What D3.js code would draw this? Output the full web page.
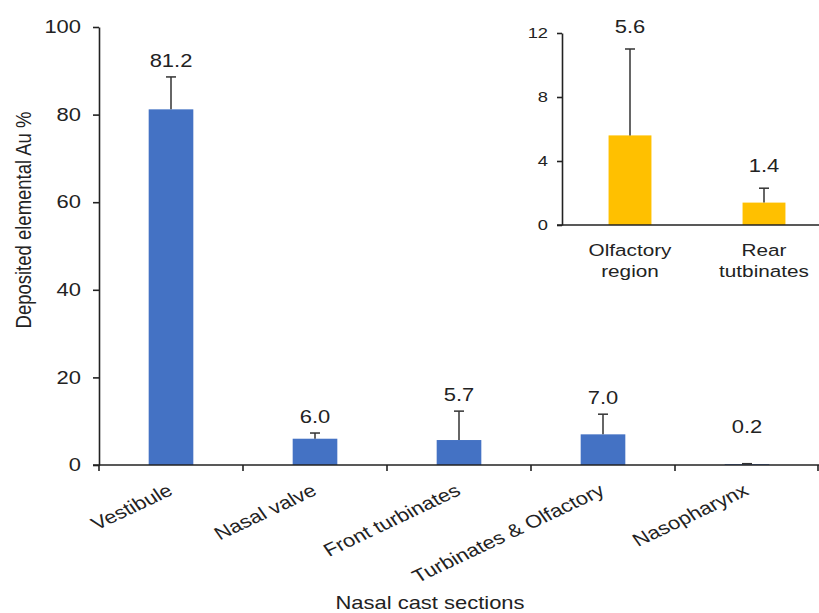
<!DOCTYPE html>
<html>
<head>
<meta charset="utf-8">
<script src="https://cdn.jsdelivr.net/npm/d3@7"></script>
<style>
  body { margin: 0; background: #fff; }
  text { font-family: "Liberation Sans", Arial, sans-serif; fill: #222; }
</style>
</head>
<body>
<div id="chart"></div>
<script>
// Main chart data: nasal cast sections.
var sections = ["Vestibule", "Nasal valve", "Front turbinates", "Turbinates & Olfactory", "Nasopharynx"];
var deposited = [81.2, 6.0, 5.7, 7.0, 0.2];
var depositedErr = [7.4, 1.3, 6.6, 4.6, 0.1];
var yTicks = [0, 20, 40, 60, 80, 100];

// Inset data: split of the turbinate region.
var insetSections = [["Olfactory", "region"], ["Rear", "tutbinates"]];
var insetValues = [5.6, 1.4];
var insetErr = [5.4, 0.9];
var insetTicks = [0, 4, 8, 12];

var width = 819;
var height = 613;
// Source picture is stretched sideways, so text gets the same stretch.
var sx = 1.22;

var svg = d3.select("#chart").append("svg")
    .attr("width", width)
    .attr("height", height);

// Main scales.
var x = d3.scaleBand()
    .domain(sections)
    .range([99, 819]);

var y = d3.scaleLinear()
    .domain([0, 100])
    .range([465, 27]);

var barW = x.bandwidth() * 0.31;

// Y axis
var gY = svg.append("g")
    .attr("transform", "translate(99,0)")
    .call(d3.axisLeft(y).tickValues(yTicks).tickSize(6).tickSizeOuter(0));
gY.select(".domain").attr("stroke", "#222").attr("stroke-width", 1.6);
gY.selectAll(".tick line").attr("stroke", "#222").attr("stroke-width", 1.6);
gY.selectAll(".tick text")
    .attr("x", null)
    .attr("transform", "translate(-18,0) scale(" + sx + ",1)")
    .style("font-size", "18px")
    .style("font-family", null);

// Bars
svg.selectAll("rect.bar")
    .data(deposited)
    .enter().append("rect")
    .attr("class", "bar")
    .attr("x", function(d, i) { return x(sections[i]) + x.bandwidth() / 2 - barW / 2; })
    .attr("y", function(d) { return y(d); })
    .attr("width", barW)
    .attr("height", function(d) { return y(0) - y(d); })
    .attr("fill", "#4472C4");

// Error bars (upper only)
var errG = svg.selectAll("g.err")
    .data(deposited)
    .enter().append("g")
    .attr("class", "err")
    .attr("stroke", "#333")
    .attr("stroke-width", 1.5);
errG.append("line")
    .attr("x1", function(d, i) { return x(sections[i]) + x.bandwidth() / 2; })
    .attr("x2", function(d, i) { return x(sections[i]) + x.bandwidth() / 2; })
    .attr("y1", function(d) { return y(d); })
    .attr("y2", function(d, i) { return y(d + depositedErr[i]); });
errG.append("line")
    .attr("x1", function(d, i) { return x(sections[i]) + x.bandwidth() / 2 - 5; })
    .attr("x2", function(d, i) { return x(sections[i]) + x.bandwidth() / 2 + 5; })
    .attr("y1", function(d, i) { return y(d + depositedErr[i]); })
    .attr("y2", function(d, i) { return y(d + depositedErr[i]); });

// Value labels above the error bars
svg.selectAll("text.val")
    .data(deposited)
    .enter().append("text")
    .attr("class", "val")
    .attr("text-anchor", "middle")
    .style("font-size", "18px")
    .attr("transform", function(d, i) {
        var ly = Math.min(y(d + depositedErr[i]) - 10, y(7.3));
        return "translate(" + (x(sections[i]) + x.bandwidth() / 2) + "," + ly + ") scale(" + sx + ",1)";
    })
    .text(function(d) { return d.toFixed(1); });

// X axis line with ticks between the categories
svg.append("line")
    .attr("x1", 93).attr("x2", 819)
    .attr("y1", y(0)).attr("y2", y(0))
    .attr("stroke", "#222").attr("stroke-width", 1.6);
var bounds = sections.map(function(s) { return x(s); }).concat([x.range()[1] - 1]);
svg.selectAll("line.xtick")
    .data(bounds)
    .enter().append("line")
    .attr("class", "xtick")
    .attr("x1", function(d) { return d; })
    .attr("x2", function(d) { return d; })
    .attr("y1", y(0))
    .attr("y2", y(0) + 6)
    .attr("stroke", "#222").attr("stroke-width", 1.6);

// Rotated category labels
svg.selectAll("text.cat")
    .data(sections)
    .enter().append("text")
    .attr("class", "cat")
    .attr("text-anchor", "end")
    .style("font-size", "18px")
    .attr("transform", function(d) {
        return "translate(" + (x(d) + x.bandwidth() / 2 + 3) + ",494) scale(" + sx + ",1) rotate(-30)";
    })
    .text(function(d) { return d; });

// Axis titles
svg.append("text")
    .attr("text-anchor", "middle")
    .style("font-size", "18px")
    .attr("transform", "translate(430,609) scale(" + sx + ",1)")
    .text("Nasal cast sections");

svg.append("text")
    .attr("text-anchor", "middle")
    .style("font-size", "18.5px")
    .attr("transform", "translate(31,220) scale(" + sx + ",1) rotate(-90)")
    .text("Deposited elemental Au %");

// ---- Inset chart ----
var xi = d3.scaleBand()
    .domain(insetSections.map(function(d) { return d.join(" "); }))
    .range([563, 831]);

var yi = d3.scaleLinear()
    .domain([0, 12])
    .range([225, 33]);

var barWi = xi.bandwidth() * 0.32;
var cx = function(i) { return xi(insetSections[i].join(" ")) + xi.bandwidth() / 2; };

var gYi = svg.append("g")
    .attr("transform", "translate(562,0)")
    .call(d3.axisLeft(yi).tickValues(insetTicks).tickSize(5).tickSizeOuter(0));
gYi.select(".domain").attr("stroke", "#222").attr("stroke-width", 1.6);
gYi.selectAll(".tick line").attr("stroke", "#222").attr("stroke-width", 1.6);
gYi.selectAll(".tick text")
    .attr("x", null)
    .attr("transform", "translate(-14,0) scale(" + sx + ",1)")
    .style("font-size", "15px")
    .style("font-family", null);

svg.selectAll("rect.ibar")
    .data(insetValues)
    .enter().append("rect")
    .attr("class", "ibar")
    .attr("x", function(d, i) { return cx(i) - barWi / 2; })
    .attr("y", function(d) { return yi(d); })
    .attr("width", barWi)
    .attr("height", function(d) { return yi(0) - yi(d); })
    .attr("fill", "#FFC000");

var errI = svg.selectAll("g.ierr")
    .data(insetValues)
    .enter().append("g")
    .attr("class", "ierr")
    .attr("stroke", "#333")
    .attr("stroke-width", 1.5);
errI.append("line")
    .attr("x1", function(d, i) { return cx(i); })
    .attr("x2", function(d, i) { return cx(i); })
    .attr("y1", function(d) { return yi(d); })
    .attr("y2", function(d, i) { return yi(d + insetErr[i]); });
errI.append("line")
    .attr("x1", function(d, i) { return cx(i) - 5; })
    .attr("x2", function(d, i) { return cx(i) + 5; })
    .attr("y1", function(d, i) { return yi(d + insetErr[i]); })
    .attr("y2", function(d, i) { return yi(d + insetErr[i]); });

svg.selectAll("text.ival")
    .data(insetValues)
    .enter().append("text")
    .attr("class", "ival")
    .attr("text-anchor", "middle")
    .style("font-size", "18px")
    .attr("transform", function(d, i) {
        return "translate(" + cx(i) + "," + (yi(d + insetErr[i]) - 16) + ") scale(" + sx + ",1)";
    })
    .text(function(d) { return d.toFixed(1); });

svg.append("line")
    .attr("x1", 557).attr("x2", 819)
    .attr("y1", yi(0)).attr("y2", yi(0))
    .attr("stroke", "#222").attr("stroke-width", 1.6);

// Two-line category labels
var icat = svg.selectAll("g.icat")
    .data(insetSections)
    .enter().append("g")
    .attr("class", "icat");
icat.selectAll("text")
    .data(function(d, i) { return d.map(function(t, j) { return { t: t, i: i, j: j }; }); })
    .enter().append("text")
    .attr("text-anchor", "middle")
    .style("font-size", "17px")
    .attr("transform", function(d) {
        return "translate(" + cx(d.i) + "," + (256 + d.j * 21) + ") scale(" + sx + ",1)";
    })
    .text(function(d) { return d.t; });
</script>
</body>
</html>
